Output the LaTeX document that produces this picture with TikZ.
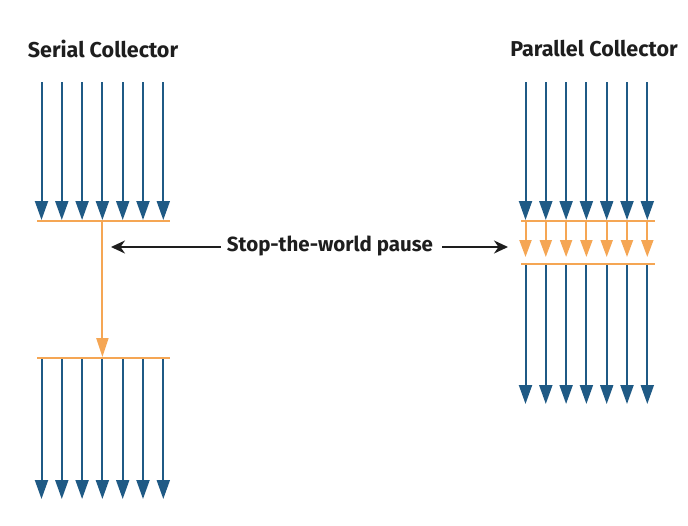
\documentclass[tikz,border=0pt]{standalone}
\usepackage{fontspec}
\setmainfont{Fira Sans}
\usetikzlibrary{arrows.meta}
\definecolor{gcblue}{HTML}{1F5A85}
\definecolor{gcorange}{HTML}{F5A654}
\definecolor{gcblack}{HTML}{1E1E1E}
\tikzset{
  thread/.style={draw=gcblue, line width=2pt, -{Triangle[width=13pt,length=19pt]}},
  pthread/.style={draw=gcorange, line width=2pt, -{Triangle[width=12pt,length=17pt]}},
  sthread/.style={draw=gcorange, line width=2pt, -{Triangle[width=12pt,length=19pt]}},
  barrier/.style={draw=gcorange, line width=2pt},
  pointer/.style={draw=gcblack, line width=2pt, -{Stealth[width=13pt,length=14pt]}},
  title/.style={font=\fontsize{21.5}{24}\selectfont\bfseries, text=gcblack, inner sep=0pt},
  label/.style={font=\fontsize{20.5}{24}\selectfont\bfseries, text=gcblack, inner sep=0pt}
}
\begin{document}
\begin{tikzpicture}[x=1pt,y=-1pt]
\useasboundingbox[fill=white] (0,0) rectangle (688,525);
% titles
\node[title] (st) at (103,49) {Serial Collector};
\node[title] (pt) at (594,49) {Parallel Collector};
% serial collector
\coordinate (sbl1) at (37,221);
\coordinate (sbr1) at (170,221);
\coordinate (sbl2) at (37,358);
\coordinate (sbr2) at (170,358);
\draw[barrier] (sbl1) -- (sbr1);
\draw[barrier] (sbl2) -- (sbr2);
\foreach \i in {0,...,6}{
  \pgfmathsetmacro{\xx}{41.5+20.3*\i}
  \coordinate (sa\i) at (\xx,82);
  \coordinate (sb\i) at (\xx,220);
  \coordinate (sc\i) at (\xx,359);
  \coordinate (sd\i) at (\xx,499);
  \draw[thread] (sa\i) -- (sb\i);
  \draw[thread] (sc\i) -- (sd\i);
}
\coordinate (sv1) at (102.4,221);
\coordinate (sv2) at (102.4,357);
\draw[sthread] (sv1) -- (sv2);
% parallel collector
\coordinate (pbl1) at (521,221);
\coordinate (pbr1) at (655,221);
\coordinate (pbl2) at (521,264);
\coordinate (pbr2) at (655,264);
\draw[barrier] (pbl1) -- (pbr1);
\draw[barrier] (pbl2) -- (pbr2);
\foreach \i in {0,...,6}{
  \pgfmathsetmacro{\xx}{525.5+20.3*\i}
  \coordinate (pa\i) at (\xx,82);
  \coordinate (pb\i) at (\xx,220);
  \coordinate (pc\i) at (\xx,222);
  \coordinate (pd\i) at (\xx,257);
  \coordinate (pe\i) at (\xx,265);
  \coordinate (pf\i) at (\xx,404);
  \draw[thread] (pa\i) -- (pb\i);
  \draw[pthread] (pc\i) -- (pd\i);
  \draw[thread] (pe\i) -- (pf\i);
}
% pause label
\node[label] (pause) at (330,246) {Stop-the-world pause};
\coordinate (lt) at (111,247);
\coordinate (rt) at (508,247);
\draw[pointer] ([xshift=-6pt]pause.west |- lt) -- (lt);
\draw[pointer] ([xshift=9pt]pause.east |- rt) -- (rt);
\end{tikzpicture}
\end{document}
